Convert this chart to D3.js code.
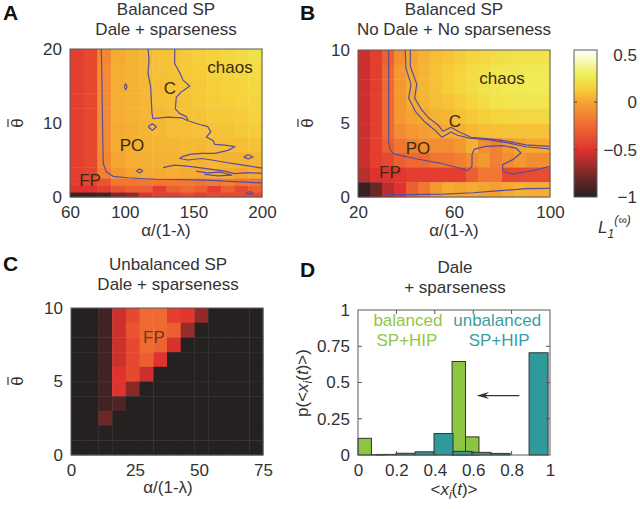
<!DOCTYPE html>
<html>
<head>
<meta charset="utf-8">
<style>
body { margin: 0; background: #fff; }
svg text { font-family: "Liberation Sans", Arial, sans-serif; fill: #333; font-size: 17px; }
.tick text { font-size: 17px; }
</style>
<script src="https://d3js.org/d3.v7.min.js"></script>
</head>
<body>
<script>
// colour map (L1 values -> colour)
const cmapStops = [-1, -0.75, -0.5, -0.25, 0, 0.15, 0.3, 0.45, 0.55];
const cmapColors = ["#262121", "#7d2828", "#e0332f", "#ef6a32", "#f5a431", "#f6d23c", "#eef05a", "#f9f9c4", "#ffffff"];
const cbarTicks = [0.5, 0, -0.5, -1];

// panel A: x 60..200 (14 columns), rows listed from top
const aXTicks = [60, 100, 150, 200];
const aYTicks = [0, 10, 20];
const aYEdges = [20, 18, 16, 14, 12, 10, 8, 6, 4, 2.5, 1.5, 0.6, 0];
const aVals = [
  [-0.45, -0.4, -0.12, 0.02, 0.05, 0.07, 0.09, 0.1, 0.12, 0.14, 0.15, 0.17, 0.19, 0.22],
  [-0.45, -0.4, -0.1, 0.03, 0.05, 0.07, 0.09, 0.1, 0.12, 0.13, 0.15, 0.16, 0.18, 0.2],
  [-0.45, -0.4, -0.1, 0.03, 0.05, 0.07, 0.08, 0.1, 0.11, 0.12, 0.14, 0.15, 0.16, 0.18],
  [-0.45, -0.4, -0.1, 0.03, 0.05, 0.06, 0.08, 0.09, 0.1, 0.12, 0.13, 0.14, 0.15, 0.16],
  [-0.45, -0.4, -0.1, 0.03, 0.05, 0.06, 0.07, 0.08, 0.1, 0.1, 0.12, 0.12, 0.13, 0.15],
  [-0.45, -0.4, -0.1, 0.02, 0.04, 0.06, 0.07, 0.08, 0.08, 0.09, 0.1, 0.1, 0.12, 0.13],
  [-0.45, -0.4, -0.1, 0.02, 0.04, 0.05, 0.06, 0.06, 0.07, 0.07, 0.08, 0.08, 0.08, 0.1],
  [-0.45, -0.4, -0.12, 0, 0.03, 0.04, 0.05, 0.05, 0.05, 0.05, 0.06, 0.05, 0.05, 0.06],
  [-0.45, -0.42, -0.15, -0.05, 0, 0.02, 0.02, 0.03, 0.02, 0.02, 0.03, 0.02, 0, 0.02],
  [-0.45, -0.42, -0.35, -0.2, -0.2, -0.18, -0.2, -0.18, -0.18, -0.2, -0.18, -0.15, -0.2, -0.2],
  [-0.5, -0.5, -0.45, -0.35, -0.3, -0.3, -0.45, -0.3, -0.25, -0.3, -0.45, -0.3, -0.4, -0.3],
  [-0.95, -0.95, -0.92, -0.75, -0.7, -0.5, -0.45, -0.45, -0.4, -0.45, -0.4, -0.4, -0.4, -0.4]
];
const aLineFP = [[82.8, 20], [83.3, 15.8], [83.6, 11.3], [84, 6.8], [84.3, 4.5], [86.5, 3.4], [91.4, 2.8], [102.3, 2.6], [121.8, 2.4], [143.6, 2.35], [163, 2.25], [180, 2.07], [200, 1.9]];
const aLineC1 = [[116.9, 20], [117.6, 18.5], [116.9, 16.7], [118.8, 14.9], [119.3, 13.1], [119.8, 11.3], [120.5, 10.6], [131.5, 10.8], [141.2, 10.7], [146, 10.3], [154.6, 9.8], [160.6, 9.5], [162.6, 8.8], [159.4, 8.1], [164.4, 7.6], [165.6, 7.1], [172.9, 7.0], [180.2, 6.8], [175.2, 6.3], [165.6, 5.9], [155.8, 5.9], [148.5, 5.8], [142.4, 5.5], [140, 5.2], [146, 5.0], [155.8, 5.2], [163.4, 5.0], [172.9, 4.7], [182.7, 4.4], [190, 4.2], [200, 3.9]];
const aLineC2 = [[136.4, 20], [136.3, 18.0], [139.8, 16.9], [142.4, 15.8], [147.3, 15.0], [141.2, 14.2], [137.5, 13.5], [136.8, 11.9], [139.8, 11.3], [144.6, 10.9], [146, 10.4]];
const aLineLow = [[127.9, 3.96], [136.3, 4.3], [148.5, 4.1], [160.6, 3.8], [172.9, 3.5], [180.2, 3.15], [190, 3.3], [200, 3.2]];
const aLineLow2 = [[152, 3.5], [160, 3.25], [170, 3.35], [178, 2.95], [168, 2.85], [158, 3.05]];
const aLoops = [
  [[99.6, 14.9], [100.6, 15.3], [101.6, 14.9], [100.6, 14.5], [99.6, 14.9]],
  [[117, 9.5], [120, 9.9], [123, 9.5], [120, 9.0], [117, 9.5]],
  [[108.5, 3.5], [110.8, 3.8], [113, 3.5], [110.8, 3.25], [108.5, 3.5]],
  [[186.5, 5.4], [190, 5.7], [193.5, 5.4], [190, 5.15], [186.5, 5.4]],
  [[188.5, 0.55], [191, 0.75], [193.5, 0.55], [191, 0.35], [188.5, 0.55]]
];
const aLabels = [["chaos", 176.7, 17.6], ["C", 132.9, 14.7], ["PO", 105.2, 7.0], ["FP", 74.6, 2.3]];

// panel B: x 20..100 (16 columns of 5), y 0..10 (rows of 1, listed from top)
const bXTicks = [20, 60, 100];
const bYTicks = [0, 5, 10];
const bVals = [
  [-0.55, -0.45, -0.3, -0.1, 0, 0.05, 0.08, 0.1, 0.13, 0.16, 0.18, 0.2, 0.22, 0.23, 0.23, 0.23],
  [-0.55, -0.45, -0.25, -0.05, 0.02, 0.06, 0.1, 0.13, 0.16, 0.2, 0.22, 0.25, 0.26, 0.26, 0.27, 0.27],
  [-0.55, -0.45, -0.25, -0.05, 0.02, 0.06, 0.09, 0.13, 0.16, 0.2, 0.23, 0.25, 0.27, 0.27, 0.28, 0.28],
  [-0.55, -0.45, -0.25, -0.05, 0.02, 0.05, 0.08, 0.1, 0.13, 0.17, 0.2, 0.23, 0.24, 0.25, 0.25, 0.25],
  [-0.55, -0.45, -0.25, -0.05, 0, 0.02, 0.05, 0.06, 0.09, 0.12, 0.14, 0.16, 0.17, 0.18, 0.18, 0.18],
  [-0.55, -0.45, -0.25, -0.1, -0.05, -0.03, 0, 0.02, 0.04, 0.07, 0.08, 0.09, 0.1, 0.1, 0.1, 0.1],
  [-0.55, -0.45, -0.3, -0.2, -0.15, -0.1, -0.1, -0.1, -0.05, 0.04, -0.1, -0.15, -0.05, 0, 0.02, 0.02],
  [-0.55, -0.45, -0.4, -0.3, -0.25, -0.25, -0.2, -0.2, -0.15, -0.1, -0.05, -0.15, -0.1, -0.05, -0.1, -0.1],
  [-0.6, -0.5, -0.5, -0.48, -0.45, -0.45, -0.45, -0.45, -0.45, -0.3, -0.2, -0.2, -0.4, -0.4, -0.38, -0.38],
  [-0.95, -0.8, -0.6, -0.5, -0.3, -0.2, -0.05, 0.02, 0, 0.02, 0, -0.02, 0.02, 0.05, 0.03, 0.03]
];
const bLineFP = [[32.8, 10], [32.8, 6.73], [32.8, 3.79], [33.3, 3.22], [35.1, 2.92], [44.2, 2.6], [53.9, 2.31], [62.2, 1.97], [65.7, 1.79], [67.5, 2.09], [67.5, 2.88], [68.5, 3.26], [73.3, 3.44], [80.3, 3.49], [85.8, 3.33], [87.9, 2.99], [84.5, 2.54], [80.3, 2.2], [80.3, 1.75], [84.5, 1.56], [92.8, 1.79], [100, 2.09]];
const bLineC1 = [[39.7, 10], [40, 8.77], [42.1, 7.64], [41.1, 6.73], [43.9, 5.83], [47.6, 5.14], [51.8, 4.58], [55, 4.06], [58.7, 4.42], [61.5, 4.2], [66.4, 4.01], [74.7, 3.88], [83.1, 3.67], [90, 3.42], [100, 3.28]];
const bLineC2 = [[41.8, 10], [41.8, 8.88], [44.5, 7.68], [43.6, 6.73], [46.3, 5.98], [49.5, 5.37], [53.2, 4.92], [55.5, 4.47], [58.7, 4.74], [62.2, 4.42], [67.1, 4.06], [74.7, 3.95], [82, 3.8], [90, 3.55], [100, 3.45]];
const bLineLow = [[31.25, 0.14], [55.6, 0.2], [68, 0.29], [79.2, 0.43], [90.3, 0.57], [100, 0.59]];
const bLabels = [["chaos", 80, 8.1], ["C", 60.4, 5.2], ["PO", 45, 3.3], ["FP", 33.3, 1.7]];

// panel C: x 0..75 (14 columns), y 0..10 (rows of 1, listed from top)
const cXTicks = [0, 25, 50, 75];
const cYTicks = [0, 5, 10];
const cVals = [
  [-1, -1, -0.92, -0.55, -0.4, -0.25, -0.25, -0.45, -0.48, -0.7, -1, -1, -1, -1],
  [-1, -1, -0.92, -0.55, -0.35, -0.25, -0.25, -0.3, -0.68, -1, -1, -1, -1, -1],
  [-1, -1, -0.92, -0.55, -0.4, -0.25, -0.28, -0.52, -1, -1, -1, -1, -1, -1],
  [-1, -1, -0.92, -0.55, -0.4, -0.3, -0.5, -1, -1, -1, -1, -1, -1, -1],
  [-1, -1, -0.92, -0.5, -0.4, -0.55, -1, -1, -1, -1, -1, -1, -1, -1],
  [-1, -1, -0.92, -0.5, -0.72, -1, -1, -1, -1, -1, -1, -1, -1, -1],
  [-1, -1, -0.92, -0.88, -1, -1, -1, -1, -1, -1, -1, -1, -1, -1],
  [-1, -1, -0.8, -1, -1, -1, -1, -1, -1, -1, -1, -1, -1, -1],
  [-1, -1, -1, -1, -1, -1, -1, -1, -1, -1, -1, -1, -1, -1],
  [-1, -1, -1, -1, -1, -1, -1, -1, -1, -1, -1, -1, -1, -1]
];
const cLabels = [["FP", 32.4, 8.0]];

// panel D: histograms of <x_i(t)>
const dXTicks = [0, 0.2, 0.4, 0.6, 0.8, 1];
const dYTicks = [0, 0.25, 0.5, 0.75, 1];
const balWidth = 0.07;
const balVals = [0.115, 0.003, 0, 0, 0, 0, 0, 0.645, 0.125, 0, 0, 0, 0, 0];
const unbWidth = 0.099;
const unbVals = [0, 0.004, 0.012, 0.022, 0.148, 0.025, 0.018, 0.011, 0, 0.705];
const dArrow = [[0.84, 0.41], [0.625, 0.41]];

const W = 640, H = 509;
const svg = d3.select("body").append("svg").attr("width", W).attr("height", H);
const defs = svg.append("defs");
const color = d3.scaleLinear().domain(cmapStops).range(cmapColors).clamp(true);
const frameColor = "#5a5a5a";
const lineColor = "#5b4c9c";

function axes(g, x, y, xt, yt) {
  const f = d => String(d);
  g.append("g").attr("transform", `translate(0,${y.range()[0]})`)
    .call(d3.axisBottom(x).tickValues(xt).tickFormat(f).tickSize(0).tickPadding(9))
    .call(s => { s.select(".domain").remove(); s.attr("font-size", null).attr("font-family", null); });
  g.append("g").attr("transform", `translate(${x.range()[0]},0)`)
    .call(d3.axisLeft(y).tickValues(yt).tickFormat(f).tickSize(0).tickPadding(8))
    .call(s => { s.select(".domain").remove(); s.attr("font-size", null).attr("font-family", null); });
}

function frame(g, x, y) {
  g.append("rect").attr("x", x.range()[0]).attr("y", y.range()[1])
    .attr("width", x.range()[1] - x.range()[0]).attr("height", y.range()[0] - y.range()[1])
    .attr("fill", "none").attr("stroke", frameColor).attr("stroke-width", 1);
}

function heat(g, x, y, xEdges, yEdges, vals) {
  const cells = [];
  vals.forEach((row, i) => row.forEach((v, j) => cells.push({ i, j, v })));
  g.append("g").selectAll("rect").data(cells).join("rect")
    .attr("x", d => x(xEdges[d.j]))
    .attr("y", d => y(yEdges[d.i]))
    .attr("width", d => x(xEdges[d.j + 1]) - x(xEdges[d.j]) + 0.4)
    .attr("height", d => y(yEdges[d.i + 1]) - y(yEdges[d.i]) + 0.4)
    .attr("fill", d => color(d.v));
}

function contours(g, x, y, lines, id) {
  defs.append("clipPath").attr("id", id).append("rect")
    .attr("x", x.range()[0]).attr("y", y.range()[1])
    .attr("width", x.range()[1] - x.range()[0]).attr("height", y.range()[0] - y.range()[1]);
  const line = d3.line().x(d => x(d[0])).y(d => y(d[1]));
  g.append("g").attr("clip-path", `url(#${id})`).selectAll("path").data(lines).join("path")
    .attr("d", line).attr("fill", "none").attr("stroke", lineColor).attr("stroke-width", 1.2)
    .attr("stroke-linejoin", "round");
}

function regionLabels(g, x, y, labels, fill) {
  g.append("g").selectAll("text").data(labels).join("text")
    .attr("x", d => x(d[1])).attr("y", d => y(d[2])).attr("dy", "0.35em")
    .attr("text-anchor", "middle").style("fill", fill).text(d => d[0]);
}

function titles(g, cx, lines, y0) {
  lines.forEach((t, i) => g.append("text").attr("x", cx).attr("y", y0 + i * 20)
    .attr("text-anchor", "middle").text(t));
}

function letter(t, x, y) {
  svg.append("text").attr("x", x).attr("y", y).style("font-weight", "bold")
    .style("font-size", "21px").style("fill", "#111").text(t);
}

function xLabel(g, cx, y, t) {
  g.append("text").attr("x", cx).attr("y", y).attr("text-anchor", "middle").text(t);
}

// theta with an overbar, turned to read bottom-up
function thetaLabel(g, x, cy) {
  const t = g.append("g").attr("transform", `translate(${x},${cy}) rotate(-90)`);
  t.append("text").attr("y", 6).attr("text-anchor", "middle").text("θ");
  t.append("line").attr("x1", -4).attr("x2", 4).attr("y1", -9).attr("y2", -9)
    .attr("stroke", "#333").attr("stroke-width", 1.2);
}

// ---------- Panel A
{
  const g = svg.append("g");
  const x = d3.scaleLinear().domain([60, 200]).range([70, 262]);
  const y = d3.scaleLinear().domain([0, 20]).range([197, 49]);
  heat(g, x, y, d3.range(60, 201, 10), aYEdges, aVals);
  contours(g, x, y, [aLineFP, aLineC1, aLineC2, aLineLow, aLineLow2, ...aLoops], "clipA");
  regionLabels(g, x, y, aLabels, "#3b2a12");
  frame(g, x, y);
  axes(g, x, y, aXTicks, aYTicks);
  titles(g, 166, ["Balanced SP", "Dale + sparseness"], 15);
  xLabel(g, 166, 236, "α/(1-λ)");
  thetaLabel(g, 17, 123);
  letter("A", 3, 20);
}

// ---------- Panel B
{
  const g = svg.append("g");
  const x = d3.scaleLinear().domain([20, 100]).range([358, 550]);
  const y = d3.scaleLinear().domain([0, 10]).range([197, 50]);
  heat(g, x, y, d3.range(20, 101, 5), d3.range(10, -1, -1), bVals);
  contours(g, x, y, [bLineFP, bLineC1, bLineC2, bLineLow], "clipB");
  regionLabels(g, x, y, bLabels, "#3b2a12");
  frame(g, x, y);
  axes(g, x, y, bXTicks, bYTicks);
  titles(g, 454, ["Balanced SP", "No Dale + No sparseness"], 15);
  xLabel(g, 454, 236, "α/(1-λ)");
  thetaLabel(g, 307, 123);
  letter("B", 300, 20);

  // colour bar
  const cb = d3.scaleLinear().domain([-1, 0.55]).range([197, 50]);
  const grad = defs.append("linearGradient").attr("id", "cbar")
    .attr("x1", 0).attr("y1", 1).attr("x2", 0).attr("y2", 0);
  grad.selectAll("stop").data(cmapStops).join("stop")
    .attr("offset", d => (d + 1) / 1.55).attr("stop-color", d => color(d));
  const cbg = svg.append("g");
  cbg.append("rect").attr("x", 574).attr("y", cb(0.55)).attr("width", 23)
    .attr("height", cb(-1) - cb(0.55)).attr("fill", "url(#cbar)")
    .attr("stroke", frameColor).attr("stroke-width", 1);
  cbg.selectAll("path").data(cbarTicks.slice(1, 3)).join("path")
    .attr("d", d => `M574,${cb(d)}h3M597,${cb(d)}h-3`).attr("stroke", "#444");
  cbg.selectAll("text").data(cbarTicks).join("text")
    .attr("x", 637).attr("y", d => cb(d)).attr("dy", "0.35em").attr("text-anchor", "end")
    .text(d => d < 0 ? "\u2212" + Math.abs(d) : String(d));
  const lt = cbg.append("text").attr("x", 598).attr("y", 233).style("font-style", "italic");
  lt.append("tspan").text("L");
  lt.append("tspan").attr("dy", 5).style("font-size", "12px").text("1");
  lt.append("tspan").attr("dy", -14).style("font-size", "12px").text("(∞)");
}

// ---------- Panel C
{
  const g = svg.append("g");
  const x = d3.scaleLinear().domain([0, 75]).range([71, 263]);
  const y = d3.scaleLinear().domain([0, 10]).range([455, 308]);
  heat(g, x, y, d3.range(15).map(i => i * 75 / 14), d3.range(10, -1, -1), cVals);
  regionLabels(g, x, y, cLabels, "#6a3a1c");
  frame(g, x, y);
  axes(g, x, y, cXTicks, cYTicks);
  titles(g, 168, ["Unbalanced SP", "Dale + sparseness"], 270);
  xLabel(g, 168, 493, "α/(1-λ)");
  thetaLabel(g, 17, 381);
  letter("C", 3, 271);
}

// ---------- Panel D
{
  const g = svg.append("g");
  const x = d3.scaleLinear().domain([0, 1]).range([358, 550]);
  const y = d3.scaleLinear().domain([0, 1]).range([455, 310]);
  const green = "#8cc540", teal = "#2e9a9c";
  const bal = balVals.map((v, i) => ({ x0: i * balWidth, x1: (i + 1) * balWidth, v })).filter(d => d.v > 0);
  const unb = unbVals.map((v, i) => ({ x0: i * unbWidth, x1: (i + 1) * unbWidth, v })).filter(d => d.v > 0);
  [[bal, green], [unb, teal]].forEach(([data, c]) => {
    g.append("g").selectAll("rect").data(data).join("rect")
      .attr("x", d => x(d.x0)).attr("width", d => x(d.x1) - x(d.x0))
      .attr("y", d => y(d.v)).attr("height", d => y(0) - y(d.v))
      .attr("fill", c).attr("stroke", "#333").attr("stroke-width", 1);
  });
  // arrow head: tip at +x, placed at the line end
  defs.append("marker").attr("id", "ah").attr("viewBox", "0 0 12 8").attr("refX", 11).attr("refY", 4)
    .attr("markerUnits", "userSpaceOnUse").attr("markerWidth", 12).attr("markerHeight", 8)
    .attr("orient", "auto")
    .append("path").attr("d", "M0,0.5 L12,4 L0,7.5 L4,4 Z").attr("fill", "#333");
  g.append("line").attr("x1", x(dArrow[0][0])).attr("y1", y(dArrow[0][1]))
    .attr("x2", x(dArrow[1][0])).attr("y2", y(dArrow[1][1]))
    .attr("stroke", "#333").attr("stroke-width", 1.2).attr("marker-end", "url(#ah)");
  frame(g, x, y);
  // inward ticks
  g.append("g").selectAll("path").data(dYTicks.slice(1, 4)).join("path")
    .attr("d", d => `M358,${y(d)}h4M550,${y(d)}h-4`).attr("stroke", "#555");
  g.append("g").selectAll("path").data(dXTicks.slice(1, 5)).join("path")
    .attr("d", d => `M${x(d)},455v-4M${x(d)},310v4`).attr("stroke", "#555");
  axes(g, x, y, dXTicks, dYTicks);
  g.append("text").attr("x", x(0.26)).attr("y", y(0.89)).attr("text-anchor", "middle").style("fill", "#8fc746").text("balanced");
  g.append("text").attr("x", x(0.255)).attr("y", y(0.75)).attr("text-anchor", "middle").style("fill", "#8fc746").text("SP+HIP");
  g.append("text").attr("x", x(0.725)).attr("y", y(0.89)).attr("text-anchor", "middle").style("fill", "#3a9fa0").text("unbalanced");
  g.append("text").attr("x", x(0.735)).attr("y", y(0.75)).attr("text-anchor", "middle").style("fill", "#3a9fa0").text("SP+HIP");
  titles(g, 455, ["Dale", "+ sparseness"], 273);
  const xl = g.append("text").attr("x", 454).attr("y", 495).attr("text-anchor", "middle");
  xl.append("tspan").text("<");
  xl.append("tspan").style("font-style", "italic").text("x");
  xl.append("tspan").attr("dy", 4).style("font-size", "12px").style("font-style", "italic").text("i");
  xl.append("tspan").attr("dy", -4).text("(");
  xl.append("tspan").style("font-style", "italic").text("t");
  xl.append("tspan").text(")>");
  const yl = g.append("text").attr("transform", "translate(308,383) rotate(-90)").attr("text-anchor", "middle");
  yl.append("tspan").text("p(<");
  yl.append("tspan").style("font-style", "italic").text("x");
  yl.append("tspan").attr("dy", 4).style("font-size", "12px").style("font-style", "italic").text("i");
  yl.append("tspan").attr("dy", -4).text("(");
  yl.append("tspan").style("font-style", "italic").text("t");
  yl.append("tspan").text(")>)");
  letter("D", 300, 277);
}
</script>
</body>
</html>
